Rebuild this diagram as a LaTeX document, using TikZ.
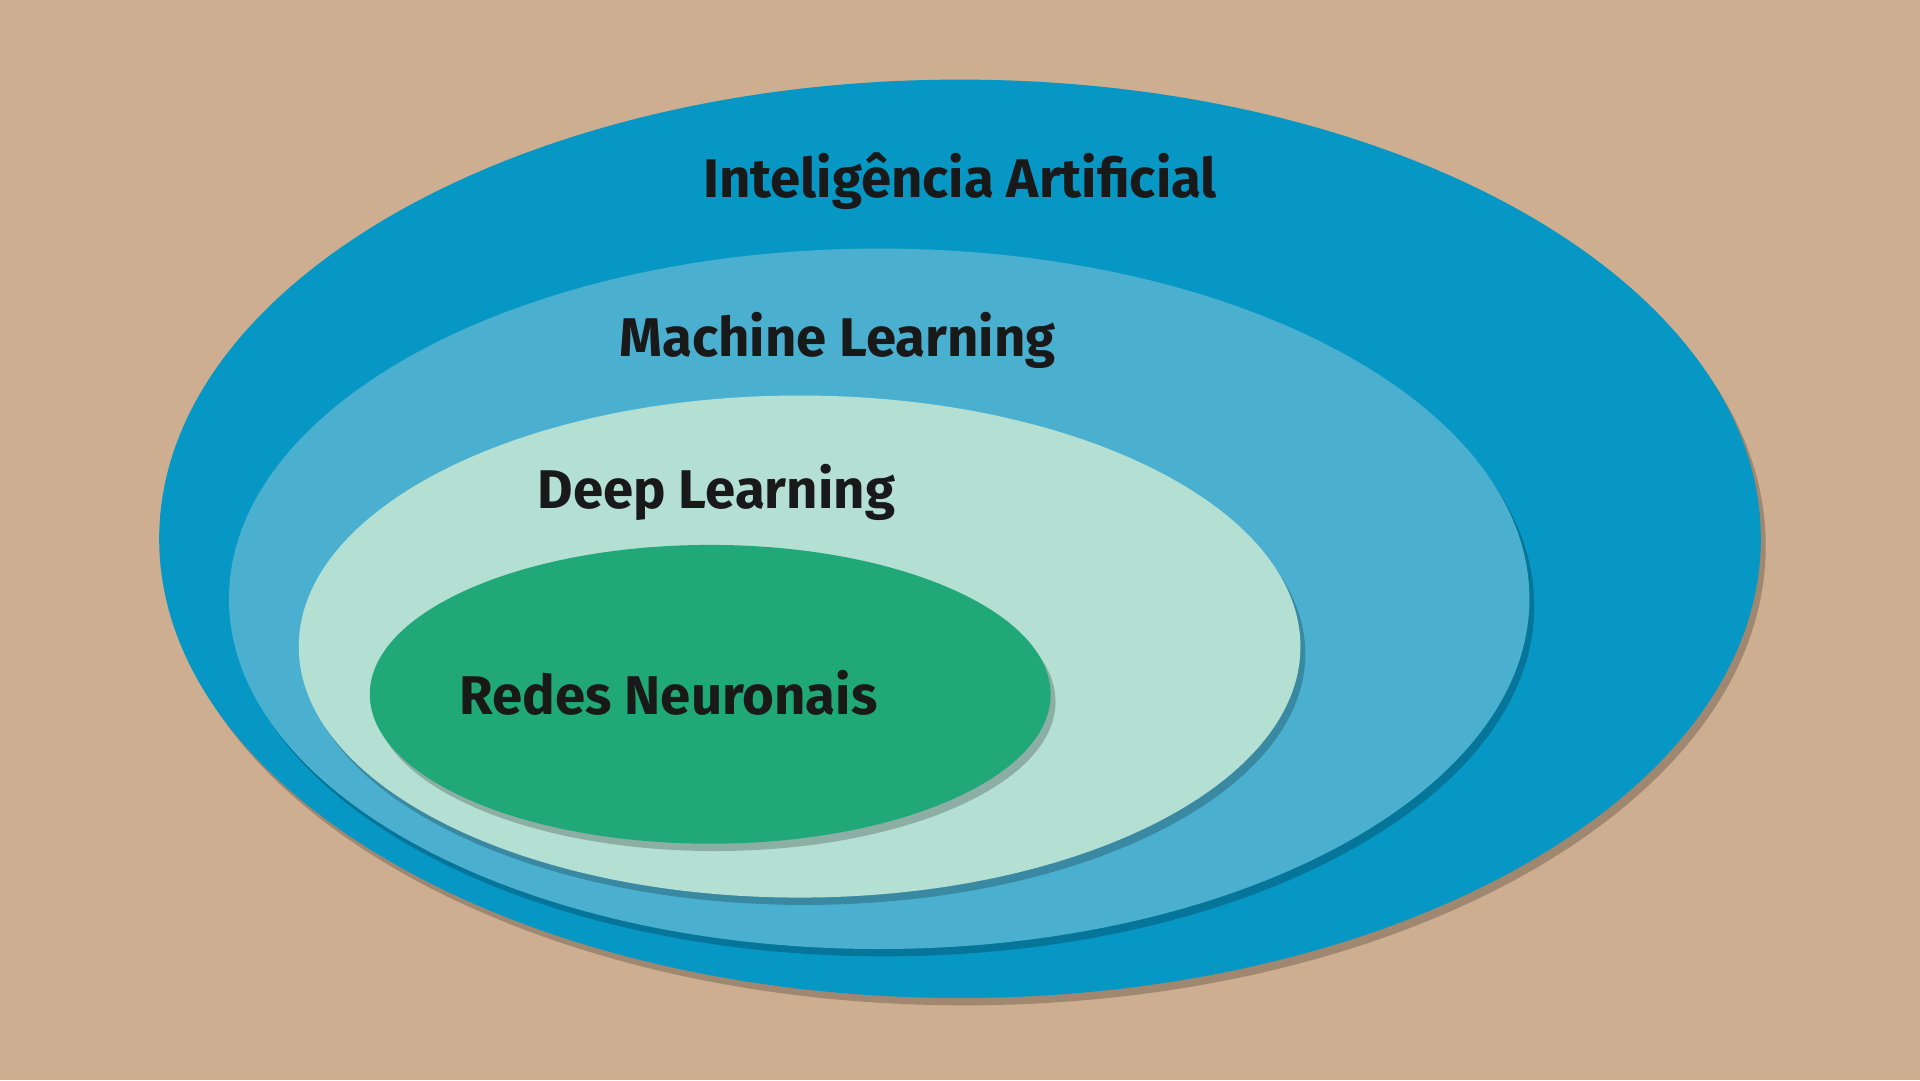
\documentclass[tikz,border=0pt]{standalone}
\usepackage{fontspec}
\setmainfont{Fira Sans}
\usetikzlibrary{calc}
\definecolor{paper}{HTML}{CDAE90}
\definecolor{aiblue}{HTML}{0797C5}
\definecolor{mlblue}{HTML}{4BB0D0}
\definecolor{dlmint}{HTML}{B4E0D3}
\definecolor{nngreen}{HTML}{20A878}
\begin{document}
\begin{tikzpicture}[x=0.012245cm,y=-0.012245cm]
\tikzset{layer/.style={draw=none},
  shade/.style={fill=black,opacity=.22},
  lbl/.style={font=\fontsize{15.5}{18}\selectfont\bfseries,text=black!90}};

\useasboundingbox [fill=paper] (0,0) rectangle (1568,882);

\coordinate (ai) at (784,440);
\coordinate (ml) at (718,489);
\coordinate (dl) at (653,528);
\coordinate (nn) at (580,567);

\fill [shade] ($(ai)+(4,6)$) ellipse [x radius=654,y radius=375];
\fill [layer,aiblue] (ai) ellipse [x radius=654,y radius=375];
\fill [shade] ($(ml)+(4,6)$) ellipse [x radius=531,y radius=286];
\fill [layer,mlblue] (ml) ellipse [x radius=531,y radius=286];
\fill [shade] ($(dl)+(4,6)$) ellipse [x radius=409,y radius=205];
\fill [layer,dlmint] (dl) ellipse [x radius=409,y radius=205];
\fill [shade] ($(nn)+(4,6)$) ellipse [x radius=278,y radius=122];
\fill [layer,nngreen] (nn) ellipse [x radius=278,y radius=122];

\node [lbl] (ailabel) at (784,148) {Inteligência Artificial};
\node [lbl] (mllabel) at (684,278) {Machine Learning};
\node [lbl] (dllabel) at (585,402) {Deep Learning};
\node [lbl] (nnlabel) at (546,566) {Redes Neuronais};
\end{tikzpicture}
\end{document}
